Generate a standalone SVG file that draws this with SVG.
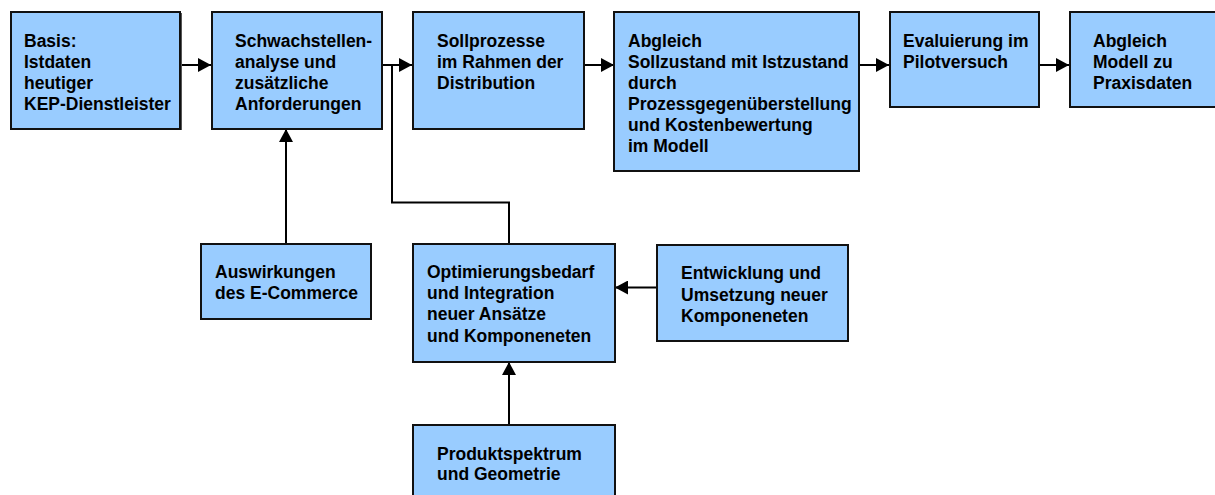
<svg xmlns="http://www.w3.org/2000/svg" width="1215" height="495" viewBox="0 0 1215 495">
  <style>
    .box { fill: #99ccff; stroke: #111; stroke-width: 2; }
    .shadow { fill: #555; }
    .lbl { font-family: "Liberation Sans", Arial, sans-serif; font-weight: bold; font-size: 17.5px; fill: #000; }
    .conn { fill: none; stroke: #000; stroke-width: 2; }
  </style>
  <defs>
    <marker id="arrow" markerWidth="13" markerHeight="14" refX="13" refY="7" orient="auto" markerUnits="userSpaceOnUse">
      <path d="M0,0 L13,7 L0,14 Z" fill="#000"/>
    </marker>
  </defs>
  <rect width="1215" height="495" fill="#fff"/>

  <!-- connectors -->
  <g id="connectors">
    <line class="conn" x1="181" y1="65" x2="211" y2="65" marker-end="url(#arrow)"/>
    <line class="conn" x1="382" y1="65" x2="412" y2="65" marker-end="url(#arrow)"/>
    <polyline class="conn" points="509,244 509,202.5 392,202.5 392,65"/>
    <line class="conn" x1="584" y1="65" x2="614" y2="65" marker-end="url(#arrow)"/>
    <line class="conn" x1="859" y1="65" x2="889" y2="65" marker-end="url(#arrow)"/>
    <line class="conn" x1="1039" y1="65" x2="1069" y2="65" marker-end="url(#arrow)"/>
    <line class="conn" x1="286" y1="244" x2="286" y2="129" marker-end="url(#arrow)"/>
    <line class="conn" x1="657" y1="287.5" x2="615" y2="287.5" marker-end="url(#arrow)"/>
    <line class="conn" x1="509" y1="425" x2="509" y2="362" marker-end="url(#arrow)"/>
  </g>

  <g id="basis">
    <rect class="shadow" x="12" y="13" width="170" height="117"/>
    <rect class="box" x="11" y="12" width="169" height="117"/>
    <text class="lbl" x="24" y="47">Basis:</text>
    <text class="lbl" x="24" y="68">Istdaten</text>
    <text class="lbl" x="24" y="89">heutiger</text>
    <text class="lbl" x="24" y="110">KEP-Dienstleister</text>
  </g>

  <g id="schwachstellen">
    <rect class="shadow" x="213" y="13" width="170" height="117"/>
    <rect class="box" x="212" y="12" width="170" height="117"/>
    <text class="lbl" x="235" y="47">Schwachstellen-</text>
    <text class="lbl" x="235" y="68">analyse und</text>
    <text class="lbl" x="235" y="89">zusätzliche</text>
    <text class="lbl" x="235" y="110">Anforderungen</text>
  </g>

  <g id="sollprozesse">
    <rect class="shadow" x="414" y="13" width="171" height="117"/>
    <rect class="box" x="413" y="12" width="171" height="117"/>
    <text class="lbl" x="437" y="47">Sollprozesse</text>
    <text class="lbl" x="437" y="68">im Rahmen der</text>
    <text class="lbl" x="437" y="89">Distribution</text>
  </g>

  <g id="abgleich-soll-ist">
    <rect class="shadow" x="615" y="13" width="245" height="159"/>
    <rect class="box" x="614" y="12" width="245" height="159"/>
    <text class="lbl" x="628" y="47">Abgleich</text>
    <text class="lbl" x="628" y="68">Sollzustand mit Istzustand</text>
    <text class="lbl" x="628" y="89">durch</text>
    <text class="lbl" x="628" y="110">Prozessgegenüberstellung</text>
    <text class="lbl" x="628" y="131">und Kostenbewertung</text>
    <text class="lbl" x="628" y="152">im Modell</text>
  </g>

  <g id="evaluierung">
    <rect class="shadow" x="891" y="13" width="149" height="95"/>
    <rect class="box" x="890" y="12" width="149" height="95"/>
    <text class="lbl" x="903" y="47">Evaluierung im</text>
    <text class="lbl" x="903" y="68">Pilotversuch</text>
  </g>

  <g id="abgleich-praxis">
    <rect class="shadow" x="1071" y="13" width="160" height="95"/>
    <rect class="box" x="1070" y="12" width="160" height="95"/>
    <text class="lbl" x="1093" y="47">Abgleich</text>
    <text class="lbl" x="1093" y="68">Modell zu</text>
    <text class="lbl" x="1093" y="89">Praxisdaten</text>
  </g>

  <g id="auswirkungen">
    <rect class="shadow" x="202" y="245" width="170" height="75"/>
    <rect class="box" x="201" y="244" width="170" height="75"/>
    <text class="lbl" x="215" y="278">Auswirkungen</text>
    <text class="lbl" x="215" y="299">des E-Commerce</text>
  </g>

  <g id="optimierungsbedarf">
    <rect class="shadow" x="414" y="245" width="202" height="118"/>
    <rect class="box" x="413" y="244" width="202" height="118"/>
    <text class="lbl" x="427" y="278">Optimierungsbedarf</text>
    <text class="lbl" x="427" y="299">und Integration</text>
    <text class="lbl" x="427" y="320">neuer Ansätze</text>
    <text class="lbl" x="427" y="341.5">und Komponeneten</text>
  </g>

  <g id="entwicklung">
    <rect class="shadow" x="658" y="246" width="191" height="96"/>
    <rect class="box" x="657" y="245" width="191" height="96"/>
    <text class="lbl" x="681" y="279">Entwicklung und</text>
    <text class="lbl" x="681" y="300.5">Umsetzung neuer</text>
    <text class="lbl" x="681" y="321.5">Komponeneten</text>
  </g>

  <g id="produktspektrum">
    <rect class="shadow" x="414" y="426" width="202" height="80"/>
    <rect class="box" x="413" y="425" width="202" height="80"/>
    <text class="lbl" x="437" y="459.5">Produktspektrum</text>
    <text class="lbl" x="437" y="480">und Geometrie</text>
  </g>
</svg>
